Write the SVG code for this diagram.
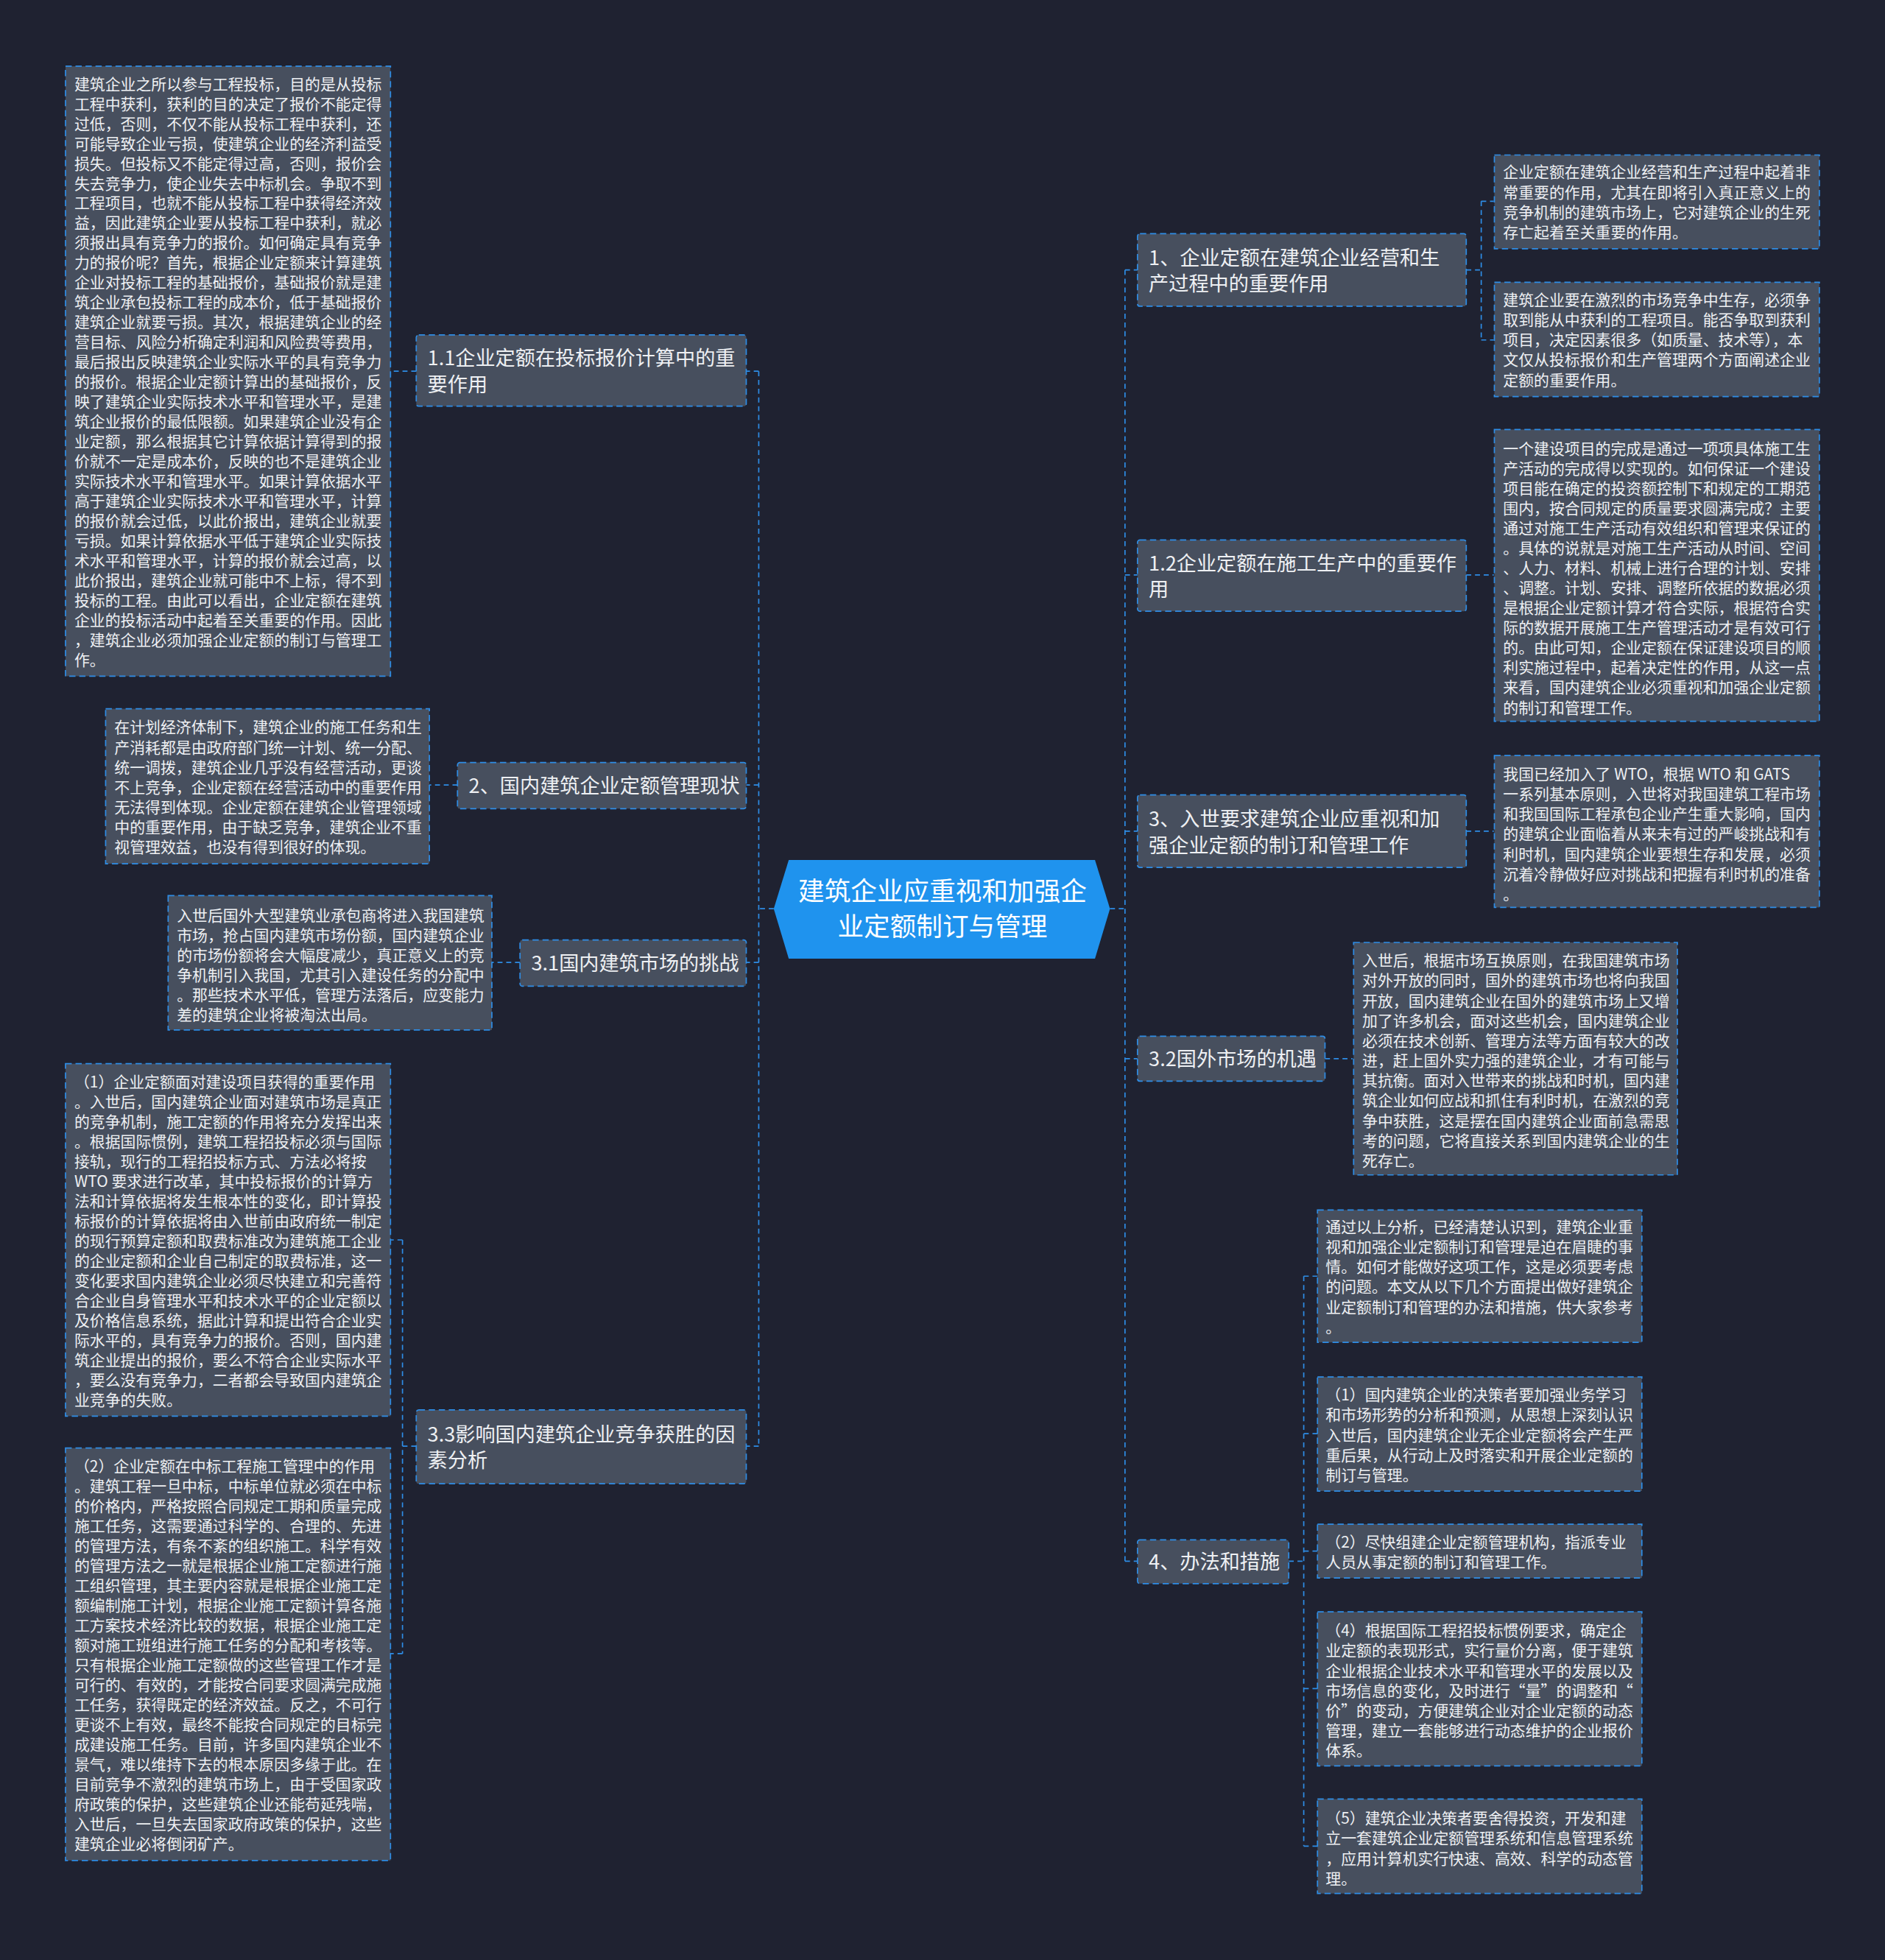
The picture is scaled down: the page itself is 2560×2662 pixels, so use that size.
<svg xmlns="http://www.w3.org/2000/svg" width="2560" height="2662" viewBox="0 0 2560 2662">
<style>
.bg{fill:#1f2231}
.box{fill:#474f5e;stroke:#2e8de6;stroke-width:1;stroke-dasharray:5 3}
.main{fill:#1f93ee}
.lt{font-family:"Noto Sans CJK SC","Noto Sans",sans-serif;font-size:12.3px;fill:#eef0f3}
.nt{font-family:"Noto Sans CJK SC","Noto Sans",sans-serif;font-size:16px;fill:#eef0f3}
.ct{font-family:"Noto Sans CJK SC","Noto Sans",sans-serif;font-size:21px;fill:#ffffff;text-anchor:middle}
.cn{fill:none;stroke:#2e8de6;stroke-width:1;stroke-dasharray:4 3}
</style>
<rect class="bg" x="0" y="0" width="2560" height="2662"/>
<g transform="scale(1.6976)">
<g id="connectors">
<path class="cn" d="M619 727 H607 M607 297 V1157 M607 297 H597 M607 628 H597 M607 770 H597 M607 1157 H597"/>
<path class="cn" d="M888 727 H900 M900 216 V1249 M900 216 H910 M900 460 H910 M900 665 H910 M900 847 H910 M900 1249 H910"/>
<path class="cn" d="M1173 216 H1185 M1185 161 V272 M1185 161 H1195 M1185 272 H1195"/>
<path class="cn" d="M1173 460 H1195 M1173 665 H1195 M1060 847 H1082"/>
<path class="cn" d="M1031 1249 H1043 M1043 1021 V1477 M1043 1021 H1054 M1043 1147 H1054 M1043 1241 H1054 M1043 1351 H1054 M1043 1477 H1054"/>
<path class="cn" d="M333 297 H312 M366 628 H343.5 M416 770 H393.5"/>
<path class="cn" d="M333 1157 H322 M322 992 V1323 M322 992 H312 M322 1323 H312"/>
</g>

<g id="center">
<polygon class="main" points="631,688 876,688 888,727 876,767 631,767 619,727"/>
<text class="ct" x="754" y="720.5">建筑企业应重视和加强企</text>
<text class="ct" x="754" y="748.5">业定额制订与管理</text>
</g>

<g id="n1">
<rect class="box" x="910" y="187" width="263" height="58" rx="2"/>
<text class="nt" x="919" y="211.8">1、企业定额在建筑企业经营和生</text>
<text class="nt" x="919" y="232.8">产过程中的重要作用</text>
</g>
<g id="n12">
<rect class="box" x="910" y="432" width="263" height="57" rx="2"/>
<text class="nt" x="919" y="456.3">1.2企业定额在施工生产中的重要作</text>
<text class="nt" x="919" y="477.3">用</text>
</g>
<g id="n3">
<rect class="box" x="910" y="636" width="263" height="58" rx="2"/>
<text class="nt" x="919" y="661">3、入世要求建筑企业应重视和加</text>
<text class="nt" x="919" y="682">强企业定额的制订和管理工作</text>
</g>
<g id="n32">
<rect class="box" x="910" y="829" width="150" height="36" rx="2"/>
<text class="nt" x="919" y="852.8">3.2国外市场的机遇</text>
</g>
<g id="n4">
<rect class="box" x="910" y="1232" width="121" height="35" rx="2"/>
<text class="nt" x="919" y="1255.3">4、办法和措施</text>
</g>
<g id="n11">
<rect class="box" x="333" y="268" width="264" height="57" rx="2"/>
<text class="nt" x="342" y="292.3">1.1企业定额在投标报价计算中的重</text>
<text class="nt" x="342" y="313.3">要作用</text>
</g>
<g id="n2">
<rect class="box" x="366" y="610" width="231" height="37" rx="2"/>
<text class="nt" x="375" y="634.3">2、国内建筑企业定额管理现状</text>
</g>
<g id="n31">
<rect class="box" x="416" y="752" width="181" height="37" rx="2"/>
<text class="nt" x="425" y="776.3">3.1国内建筑市场的挑战</text>
</g>
<g id="n33">
<rect class="box" x="333" y="1128" width="264" height="59" rx="2"/>
<text class="nt" x="342" y="1153.3">3.3影响国内建筑企业竞争获胜的因</text>
<text class="nt" x="342" y="1174.3">素分析</text>
</g>

<g id="leaf-l1">
<rect class="box" x="52.4" y="53" width="260" height="488"/>
<text class="lt" x="59.5" y="71.6"><tspan x="59.5">建筑企业之所以参与工程投标，目的是从投标</tspan><tspan x="59.5" dy="15.9">工程中获利，获利的目的决定了报价不能定得</tspan><tspan x="59.5" dy="15.9">过低，否则，不仅不能从投标工程中获利，还</tspan><tspan x="59.5" dy="15.9">可能导致企业亏损，使建筑企业的经济利益受</tspan><tspan x="59.5" dy="15.9">损失。但投标又不能定得过高，否则，报价会</tspan><tspan x="59.5" dy="15.9">失去竞争力，使企业失去中标机会。争取不到</tspan><tspan x="59.5" dy="15.9">工程项目，也就不能从投标工程中获得经济效</tspan><tspan x="59.5" dy="15.9">益，因此建筑企业要从投标工程中获利，就必</tspan><tspan x="59.5" dy="15.9">须报出具有竞争力的报价。如何确定具有竞争</tspan><tspan x="59.5" dy="15.9">力的报价呢？首先，根据企业定额来计算建筑</tspan><tspan x="59.5" dy="15.9">企业对投标工程的基础报价，基础报价就是建</tspan><tspan x="59.5" dy="15.9">筑企业承包投标工程的成本价，低于基础报价</tspan><tspan x="59.5" dy="15.9">建筑企业就要亏损。其次，根据建筑企业的经</tspan><tspan x="59.5" dy="15.9">营目标、风险分析确定利润和风险费等费用，</tspan><tspan x="59.5" dy="15.9">最后报出反映建筑企业实际水平的具有竞争力</tspan><tspan x="59.5" dy="15.9">的报价。根据企业定额计算出的基础报价，反</tspan><tspan x="59.5" dy="15.9">映了建筑企业实际技术水平和管理水平，是建</tspan><tspan x="59.5" dy="15.9">筑企业报价的最低限额。如果建筑企业没有企</tspan><tspan x="59.5" dy="15.9">业定额，那么根据其它计算依据计算得到的报</tspan><tspan x="59.5" dy="15.9">价就不一定是成本价，反映的也不是建筑企业</tspan><tspan x="59.5" dy="15.9">实际技术水平和管理水平。如果计算依据水平</tspan><tspan x="59.5" dy="15.9">高于建筑企业实际技术水平和管理水平，计算</tspan><tspan x="59.5" dy="15.9">的报价就会过低，以此价报出，建筑企业就要</tspan><tspan x="59.5" dy="15.9">亏损。如果计算依据水平低于建筑企业实际技</tspan><tspan x="59.5" dy="15.9">术水平和管理水平，计算的报价就会过高，以</tspan><tspan x="59.5" dy="15.9">此价报出，建筑企业就可能中不上标，得不到</tspan><tspan x="59.5" dy="15.9">投标的工程。由此可以看出，企业定额在建筑</tspan><tspan x="59.5" dy="15.9">企业的投标活动中起着至关重要的作用。因此</tspan><tspan x="59.5" dy="15.9">，建筑企业必须加强企业定额的制订与管理工</tspan><tspan x="59.5" dy="15.9">作。</tspan></text>
</g>

<g id="leaf-l2">
<rect class="box" x="84.5" y="567" width="259" height="124"/>
<text class="lt" x="91.5" y="586.4"><tspan x="91.5">在计划经济体制下，建筑企业的施工任务和生</tspan><tspan x="91.5" dy="16">产消耗都是由政府部门统一计划、统一分配、</tspan><tspan x="91.5" dy="16">统一调拨，建筑企业几乎没有经营活动，更谈</tspan><tspan x="91.5" dy="16">不上竞争，企业定额在经营活动中的重要作用</tspan><tspan x="91.5" dy="16">无法得到体现。企业定额在建筑企业管理领域</tspan><tspan x="91.5" dy="16">中的重要作用，由于缺乏竞争，建筑企业不重</tspan><tspan x="91.5" dy="16">视管理效益，也没有得到很好的体现。</tspan></text>
</g>

<g id="leaf-l3">
<rect class="box" x="134.5" y="716.5" width="259" height="107.5"/>
<text class="lt" x="141.5" y="736.7"><tspan x="141.5">入世后国外大型建筑业承包商将进入我国建筑</tspan><tspan x="141.5" dy="16">市场，抢占国内建筑市场份额，国内建筑企业</tspan><tspan x="141.5" dy="16">的市场份额将会大幅度减少，真正意义上的竞</tspan><tspan x="141.5" dy="16">争机制引入我国，尤其引入建设任务的分配中</tspan><tspan x="141.5" dy="16">。那些技术水平低，管理方法落后，应变能力</tspan><tspan x="141.5" dy="16">差的建筑企业将被淘汰出局。</tspan></text>
</g>

<g id="leaf-l4">
<rect class="box" x="52.4" y="851" width="260" height="282"/>
<text class="lt" x="59.5" y="870.3"><tspan x="59.5">（1）企业定额面对建设项目获得的重要作用</tspan><tspan x="59.5" dy="15.9">。入世后，国内建筑企业面对建筑市场是真正</tspan><tspan x="59.5" dy="15.9">的竞争机制，施工定额的作用将充分发挥出来</tspan><tspan x="59.5" dy="15.9">。根据国际惯例，建筑工程招投标必须与国际</tspan><tspan x="59.5" dy="15.9">接轨，现行的工程招投标方式、方法必将按</tspan><tspan x="59.5" dy="15.9">WTO 要求进行改革，其中投标报价的计算方</tspan><tspan x="59.5" dy="15.9">法和计算依据将发生根本性的变化，即计算投</tspan><tspan x="59.5" dy="15.9">标报价的计算依据将由入世前由政府统一制定</tspan><tspan x="59.5" dy="15.9">的现行预算定额和取费标准改为建筑施工企业</tspan><tspan x="59.5" dy="15.9">的企业定额和企业自己制定的取费标准，这一</tspan><tspan x="59.5" dy="15.9">变化要求国内建筑企业必须尽快建立和完善符</tspan><tspan x="59.5" dy="15.9">合企业自身管理水平和技术水平的企业定额以</tspan><tspan x="59.5" dy="15.9">及价格信息系统，据此计算和提出符合企业实</tspan><tspan x="59.5" dy="15.9">际水平的，具有竞争力的报价。否则，国内建</tspan><tspan x="59.5" dy="15.9">筑企业提出的报价，要么不符合企业实际水平</tspan><tspan x="59.5" dy="15.9">，要么没有竞争力，二者都会导致国内建筑企</tspan><tspan x="59.5" dy="15.9">业竞争的失败。</tspan></text>
</g>

<g id="leaf-l5">
<rect class="box" x="52.4" y="1158.5" width="260" height="330"/>
<text class="lt" x="59.5" y="1177.8"><tspan x="59.5">（2）企业定额在中标工程施工管理中的作用</tspan><tspan x="59.5" dy="15.9">。建筑工程一旦中标，中标单位就必须在中标</tspan><tspan x="59.5" dy="15.9">的价格内，严格按照合同规定工期和质量完成</tspan><tspan x="59.5" dy="15.9">施工任务，这需要通过科学的、合理的、先进</tspan><tspan x="59.5" dy="15.9">的管理方法，有条不紊的组织施工。科学有效</tspan><tspan x="59.5" dy="15.9">的管理方法之一就是根据企业施工定额进行施</tspan><tspan x="59.5" dy="15.9">工组织管理，其主要内容就是根据企业施工定</tspan><tspan x="59.5" dy="15.9">额编制施工计划，根据企业施工定额计算各施</tspan><tspan x="59.5" dy="15.9">工方案技术经济比较的数据，根据企业施工定</tspan><tspan x="59.5" dy="15.9">额对施工班组进行施工任务的分配和考核等。</tspan><tspan x="59.5" dy="15.9">只有根据企业施工定额做的这些管理工作才是</tspan><tspan x="59.5" dy="15.9">可行的、有效的，才能按合同要求圆满完成施</tspan><tspan x="59.5" dy="15.9">工任务，获得既定的经济效益。反之，不可行</tspan><tspan x="59.5" dy="15.9">更谈不上有效，最终不能按合同规定的目标完</tspan><tspan x="59.5" dy="15.9">成建设施工任务。目前，许多国内建筑企业不</tspan><tspan x="59.5" dy="15.9">景气，难以维持下去的根本原因多缘于此。在</tspan><tspan x="59.5" dy="15.9">目前竞争不激烈的建筑市场上，由于受国家政</tspan><tspan x="59.5" dy="15.9">府政策的保护，这些建筑企业还能苟延残喘，</tspan><tspan x="59.5" dy="15.9">入世后，一旦失去国家政府政策的保护，这些</tspan><tspan x="59.5" dy="15.9">建筑企业必将倒闭矿产。</tspan></text>
</g>

<g id="leaf-r1a">
<rect class="box" x="1195.5" y="124" width="260" height="75"/>
<text class="lt" x="1202.5" y="142.2"><tspan x="1202.5">企业定额在建筑企业经营和生产过程中起着非</tspan><tspan x="1202.5" dy="16">常重要的作用，尤其在即将引入真正意义上的</tspan><tspan x="1202.5" dy="16">竞争机制的建筑市场上，它对建筑企业的生死</tspan><tspan x="1202.5" dy="16">存亡起着至关重要的作用。</tspan></text>
</g>

<g id="leaf-r1b">
<rect class="box" x="1195.5" y="225.8" width="260" height="91.5"/>
<text class="lt" x="1202.5" y="244.4"><tspan x="1202.5">建筑企业要在激烈的市场竞争中生存，必须争</tspan><tspan x="1202.5" dy="16">取到能从中获利的工程项目。能否争取到获利</tspan><tspan x="1202.5" dy="16">项目，决定因素很多（如质量、技术等），本</tspan><tspan x="1202.5" dy="16">文仅从投标报价和生产管理两个方面阐述企业</tspan><tspan x="1202.5" dy="16">定额的重要作用。</tspan></text>
</g>

<g id="leaf-r2">
<rect class="box" x="1195.5" y="343.6" width="260" height="233.5"/>
<text class="lt" x="1202.5" y="363.2"><tspan x="1202.5">一个建设项目的完成是通过一项项具体施工生</tspan><tspan x="1202.5" dy="15.95">产活动的完成得以实现的。如何保证一个建设</tspan><tspan x="1202.5" dy="15.95">项目能在确定的投资额控制下和规定的工期范</tspan><tspan x="1202.5" dy="15.95">围内，按合同规定的质量要求圆满完成？主要</tspan><tspan x="1202.5" dy="15.95">通过对施工生产活动有效组织和管理来保证的</tspan><tspan x="1202.5" dy="15.95">。具体的说就是对施工生产活动从时间、空间</tspan><tspan x="1202.5" dy="15.95">、人力、材料、机械上进行合理的计划、安排</tspan><tspan x="1202.5" dy="15.95">、调整。计划、安排、调整所依据的数据必须</tspan><tspan x="1202.5" dy="15.95">是根据企业定额计算才符合实际，根据符合实</tspan><tspan x="1202.5" dy="15.95">际的数据开展施工生产管理活动才是有效可行</tspan><tspan x="1202.5" dy="15.95">的。由此可知，企业定额在保证建设项目的顺</tspan><tspan x="1202.5" dy="15.95">利实施过程中，起着决定性的作用，从这一点</tspan><tspan x="1202.5" dy="15.95">来看，国内建筑企业必须重视和加强企业定额</tspan><tspan x="1202.5" dy="15.95">的制订和管理工作。</tspan></text>
</g>

<g id="leaf-r3">
<rect class="box" x="1195.5" y="604.4" width="260" height="121.6"/>
<text class="lt" x="1202.5" y="623.8"><tspan x="1202.5">我国已经加入了 WTO，根据 WTO 和 GATS</tspan><tspan x="1202.5" dy="16">一系列基本原则，入世将对我国建筑工程市场</tspan><tspan x="1202.5" dy="16">和我国国际工程承包企业产生重大影响，国内</tspan><tspan x="1202.5" dy="16">的建筑企业面临着从来未有过的严峻挑战和有</tspan><tspan x="1202.5" dy="16">利时机，国内建筑企业要想生存和发展，必须</tspan><tspan x="1202.5" dy="16">沉着冷静做好应对挑战和把握有利时机的准备</tspan><tspan x="1202.5" dy="16">。</tspan></text>
</g>

<g id="leaf-r4">
<rect class="box" x="1082.9" y="754" width="259" height="186"/>
<text class="lt" x="1089.8" y="773"><tspan x="1089.8">入世后，根据市场互换原则，在我国建筑市场</tspan><tspan x="1089.8" dy="16">对外开放的同时，国外的建筑市场也将向我国</tspan><tspan x="1089.8" dy="16">开放，国内建筑企业在国外的建筑市场上又增</tspan><tspan x="1089.8" dy="16">加了许多机会，面对这些机会，国内建筑企业</tspan><tspan x="1089.8" dy="16">必须在技术创新、管理方法等方面有较大的改</tspan><tspan x="1089.8" dy="16">进，赶上国外实力强的建筑企业，才有可能与</tspan><tspan x="1089.8" dy="16">其抗衡。面对入世带来的挑战和时机，国内建</tspan><tspan x="1089.8" dy="16">筑企业如何应战和抓住有利时机，在激烈的竞</tspan><tspan x="1089.8" dy="16">争中获胜，这是摆在国内建筑企业面前急需思</tspan><tspan x="1089.8" dy="16">考的问题，它将直接关系到国内建筑企业的生</tspan><tspan x="1089.8" dy="16">死存亡。</tspan></text>
</g>

<g id="leaf-r5">
<rect class="box" x="1054" y="968" width="259.5" height="106"/>
<text class="lt" x="1060.5" y="986.1"><tspan x="1060.5">通过以上分析，已经清楚认识到，建筑企业重</tspan><tspan x="1060.5" dy="16">视和加强企业定额制订和管理是迫在眉睫的事</tspan><tspan x="1060.5" dy="16">情。如何才能做好这项工作，这是必须要考虑</tspan><tspan x="1060.5" dy="16">的问题。本文从以下几个方面提出做好建筑企</tspan><tspan x="1060.5" dy="16">业定额制订和管理的办法和措施，供大家参考</tspan><tspan x="1060.5" dy="16">。</tspan></text>
</g>

<g id="leaf-r6">
<rect class="box" x="1054" y="1101.6" width="259.5" height="91.3"/>
<text class="lt" x="1060.5" y="1120.6"><tspan x="1060.5">（1）国内建筑企业的决策者要加强业务学习</tspan><tspan x="1060.5" dy="16">和市场形势的分析和预测，从思想上深刻认识</tspan><tspan x="1060.5" dy="16">入世后，国内建筑企业无企业定额将会产生严</tspan><tspan x="1060.5" dy="16">重后果，从行动上及时落实和开展企业定额的</tspan><tspan x="1060.5" dy="16">制订与管理。</tspan></text>
</g>

<g id="leaf-r7">
<rect class="box" x="1054" y="1219.4" width="259.5" height="43.1"/>
<text class="lt" x="1060.5" y="1238.4"><tspan x="1060.5">（2）尽快组建企业定额管理机构，指派专业</tspan><tspan x="1060.5" dy="16">人员从事定额的制订和管理工作。</tspan></text>
</g>

<g id="leaf-r8">
<rect class="box" x="1054" y="1289.5" width="259.5" height="123.3"/>
<text class="lt" x="1060.5" y="1309.1"><tspan x="1060.5">（4）根据国际工程招投标惯例要求，确定企</tspan><tspan x="1060.5" dy="16">业定额的表现形式，实行量价分离，便于建筑</tspan><tspan x="1060.5" dy="16">企业根据企业技术水平和管理水平的发展以及</tspan><tspan x="1060.5" dy="16">市场信息的变化，及时进行“量”的调整和“</tspan><tspan x="1060.5" dy="16">价”的变动，方便建筑企业对企业定额的动态</tspan><tspan x="1060.5" dy="16">管理，建立一套能够进行动态维护的企业报价</tspan><tspan x="1060.5" dy="16">体系。</tspan></text>
</g>

<g id="leaf-r9">
<rect class="box" x="1054" y="1439.3" width="259.5" height="75.6"/>
<text class="lt" x="1060.5" y="1459.3"><tspan x="1060.5">（5）建筑企业决策者要舍得投资，开发和建</tspan><tspan x="1060.5" dy="16">立一套建筑企业定额管理系统和信息管理系统</tspan><tspan x="1060.5" dy="16">，应用计算机实行快速、高效、科学的动态管</tspan><tspan x="1060.5" dy="16">理。</tspan></text>
</g>
</g>
</svg>
